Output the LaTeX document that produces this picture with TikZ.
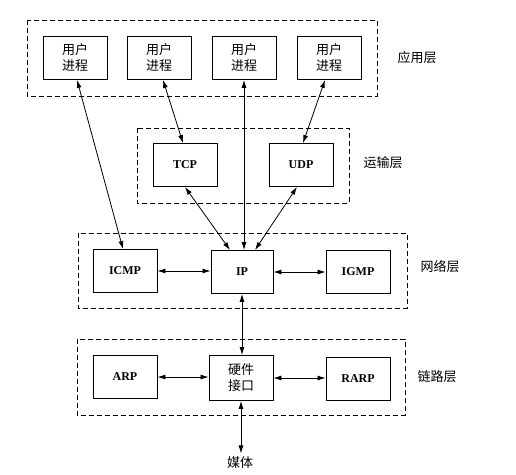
\documentclass[tikz,border=0pt]{standalone}
\usepackage{fontspec}
\setmainfont{Liberation Serif}
\newfontfamily\cjk{Noto Sans CJK SC}
\usetikzlibrary{arrows.meta}

\tikzset{
  proto/.style={draw, line width=0.9pt, minimum width=64pt, minimum height=43pt,
    inner sep=0pt, font=\fontsize{12}{14}\selectfont\bfseries},
  proc/.style={draw, line width=0.9pt, minimum width=64pt, minimum height=43pt,
    inner sep=0pt, align=center, font=\cjk\fontsize{13}{16}\selectfont},
  layer/.style={draw, line width=0.9pt, dash pattern=on 5pt off 3pt},
  layername/.style={font=\cjk\fontsize{13}{15}\selectfont},
  link/.style={line width=0.8pt, {Latex[length=8pt,width=5pt]}-{Latex[length=8pt,width=5pt]}}
}

\begin{document}
\begin{tikzpicture}[x=1pt, y=-1pt]
    \useasboundingbox (0,0) rectangle (516,474);

    % Layer frames
    \draw[layer] (27,20) rectangle (377,96);
    \draw[layer] (137,128) rectangle (349,203);
    \draw[layer] (78,233) rectangle (407,308);
    \draw[layer] (77,339) rectangle (405,415);

    % Layer names
    \node[layername] (appname) at (417,58) {应用层};
    \node[layername] (transname) at (383,163) {运输层};
    \node[layername] (netname) at (440,267) {网络层};
    \node[layername] (linkname) at (437,377) {链路层};

    % Application layer
    \node[proc] (user1) at (75,58) {用户\\进程};
    \node[proc] (user2) at (159,58) {用户\\进程};
    \node[proc] (user3) at (244,58) {用户\\进程};
    \node[proc] (user4) at (329,58) {用户\\进程};

    % Transport layer
    \node[proto] (tcp) at (185,165) {TCP};
    \node[proto] (udp) at (301,165) {UDP};

    % Network layer
    \node[proto] (icmp) at (125,271) {ICMP};
    \node[proto, minimum width=62pt] (ip) at (242,272) {IP};
    \node[proto] (igmp) at (358,272) {IGMP};

    % Link layer
    \node[proto] (arp) at (125,377) {ARP};
    \node[proc, minimum height=45pt] (hw) at (241,378) {硬件\\接口};
    \node[proto] (rarp) at (358,379) {RARP};

    % Medium
    \node[layername] (media) at (240,463) {媒体};

    % Connections up to the processes
    \draw[link] ([xshift=2pt]user1.south) -- ([xshift=-2pt]icmp.north);
    \draw[link] ([xshift=4pt]user2.south) -- ([xshift=-2pt]tcp.north);
    \draw[link] (user3.south) -- (user3.south |- ip.north);
    \draw[link] ([xshift=-4pt]user4.south) -- ([xshift=2pt]udp.north);

    % Transport to IP
    \draw[link] (tcp.south) -- ([xshift=-12pt]ip.north);
    \draw[link] ([xshift=-4pt]udp.south) -- ([xshift=13pt]ip.north);

    % Network layer sideways
    \draw[link] (icmp.east) -- (icmp.east -| ip.west);
    \draw[link] (ip.east) -- (ip.east -| igmp.west);

    % IP down to the interface
    \draw[link] (ip.south) -- (ip.south |- hw.north);

    % Link layer sideways
    \draw[link] (arp.east) -- (arp.east -| hw.west);
    \draw[link] (hw.east) -- (hw.east -| rarp.west);

    % Interface to the medium
    \draw[link] (hw.south) -- (hw.south |- media.north);
\end{tikzpicture}
\end{document}
